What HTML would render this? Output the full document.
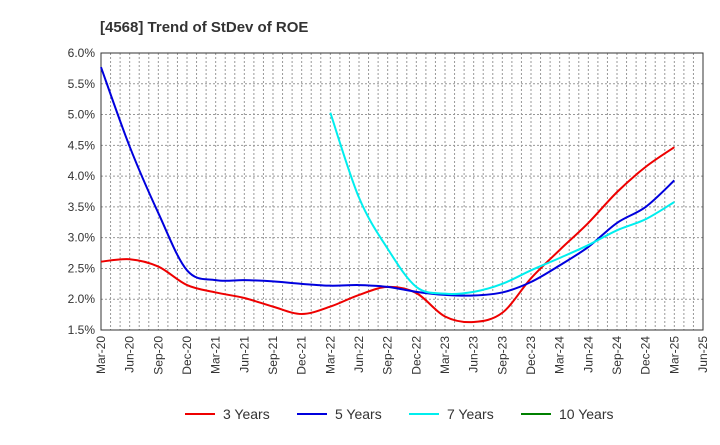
<!DOCTYPE html>
<html><head><meta charset="utf-8"><style>
body{margin:0;background:#fff;font-family:"Liberation Sans",sans-serif}
svg text{font-family:"Liberation Sans",sans-serif}
</style></head><body>
<svg width="720" height="440">
<text x="100" y="32" font-size="15" font-weight="bold" fill="#333">[4568]  Trend of StDev of ROE</text>
<g id="grid"></g><g id="axes"></g><g id="series"></g>
<g id="legend"></g>
</svg>
<script>
const xLabels=["Mar-20","Jun-20","Sep-20","Dec-20","Mar-21","Jun-21","Sep-21","Dec-21","Mar-22","Jun-22","Sep-22","Dec-22","Mar-23","Jun-23","Sep-23","Dec-23","Mar-24","Jun-24","Sep-24","Dec-24","Mar-25","Jun-25"];
const yTicks=[1.5,2.0,2.5,3.0,3.5,4.0,4.5,5.0,5.5,6.0];
const y3=[2.61,2.65,2.53,2.23,2.11,2.02,1.88,1.76,1.88,2.07,2.2,2.1,1.72,1.63,1.78,2.34,2.8,3.24,3.74,4.15,4.47];
const y5=[5.77,4.48,3.4,2.47,2.31,2.31,2.29,2.25,2.22,2.23,2.2,2.12,2.07,2.06,2.11,2.28,2.55,2.85,3.24,3.5,3.93];
const y7=[null,null,null,null,null,null,null,null,5.03,3.65,2.82,2.2,2.09,2.12,2.25,2.47,2.67,2.88,3.12,3.3,3.58];
const y10=[];
const NS="http://www.w3.org/2000/svg";
const L=101,R=703,T=53,B=330;
const xs=i=>L+(R-L)*i/21;
const ys=v=>B-(v-1.5)/4.5*(B-T);
function mk(tag,attrs,parent){const e=document.createElementNS(NS,tag);for(const k in attrs)e.setAttribute(k,attrs[k]);parent.appendChild(e);return e;}
const grid=document.getElementById('grid'),axes=document.getElementById('axes'),ser=document.getElementById('series'),leg=document.getElementById('legend');
for(let m=1;m<63;m++){const x=L+(R-L)*m/63;const l=mk('line',{x1:x,x2:x,y1:T,y2:B,stroke:'#999','stroke-dasharray':'2,2','stroke-width':1},grid);

}
yTicks.forEach(v=>{const y=ys(v);const l=mk('line',{x1:L,x2:R,y1:y,y2:y,stroke:'#999','stroke-dasharray':'2,2','stroke-width':1},grid);


const t=mk('text',{x:L-6,y:y+4,'text-anchor':'end','font-size':12,fill:'#333'},axes);t.textContent=v.toFixed(1)+'%';

});
xLabels.forEach((s,i)=>{const x=xs(i);const t=mk('text',{x:x+4,y:B+6,'text-anchor':'end','font-size':12,fill:'#333',transform:`rotate(-90 ${x+4} ${B+6})`},axes);t.textContent=s;

});
const fr=mk('rect',{x:L,y:T,width:R-L,height:B-T,fill:'none',stroke:'#333','stroke-width':1},axes);


function path(arr,color,name){const p=[];arr.forEach((v,i)=>{if(v!=null)p.push([xs(i),ys(v)]);});if(p.length<2)return;
let d=`M${p[0][0]},${p[0][1]}`;
for(let i=0;i<p.length-1;i++){const p0=p[i-1]||p[i],p1=p[i],p2=p[i+1],p3=p[i+2]||p2;
const c1=[p1[0]+(p2[0]-p0[0])/6,p1[1]+(p2[1]-p0[1])/6],c2=[p2[0]-(p3[0]-p1[0])/6,p2[1]-(p3[1]-p1[1])/6];
d+=`C${c1[0]},${c1[1]} ${c2[0]},${c2[1]} ${p2[0]},${p2[1]}`;}
const e=mk('path',{d,fill:'none',stroke:color,'stroke-width':2},ser);

}
path(y3,'#ee0000','line-3-years');path(y5,'#0000dd','line-5-years');path(y7,'#00eeee','line-7-years');path(y10,'#008000','line-10-years');
[['3 Years','#ee0000',185],['5 Years','#0000dd',297],['7 Years','#00eeee',409],['10 Years','#008000',521]].forEach(([n,c,x])=>{
const g=mk('g',{},leg);


mk('line',{x1:x,x2:x+30,y1:414,y2:414,stroke:c,'stroke-width':2},g);
const t=mk('text',{x:x+38,y:419,'font-size':14,fill:'#333'},g);t.textContent=n;});
</script>
</body></html>
